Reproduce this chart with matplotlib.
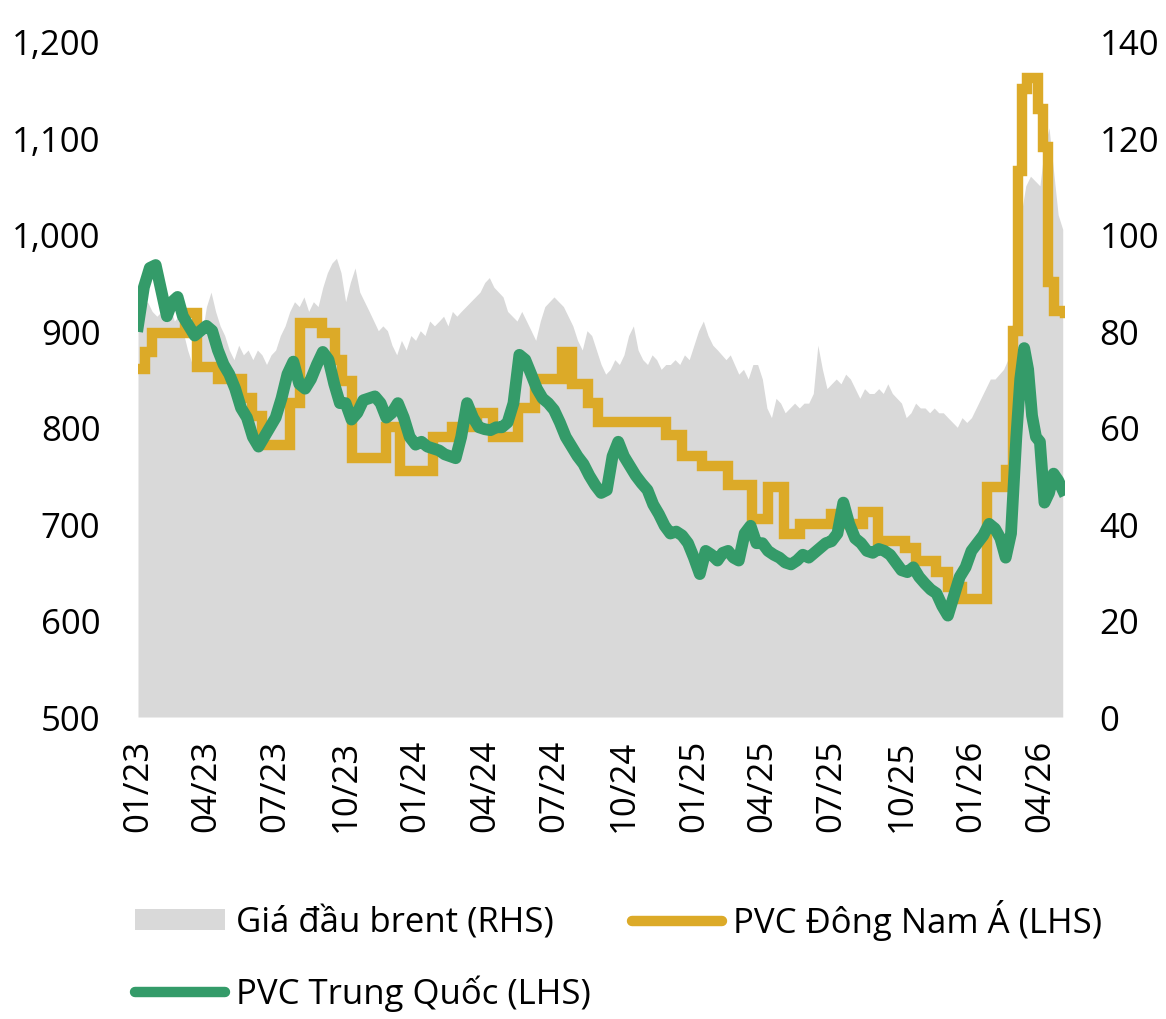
import matplotlib
matplotlib.use('Agg')
import matplotlib.pyplot as plt
import pandas as pd
from matplotlib.patches import Patch
from matplotlib.lines import Line2D
from matplotlib import font_manager as fm


def pick_font(cands):
    for c in cands:
        try:
            fm.findfont(c, fallback_to_default=False)
            return c
        except Exception:
            pass
    return 'DejaVu Sans'


FONT = pick_font(['Open Sans', 'Noto Sans', 'Lato', 'DejaVu Sans'])
plt.rcParams['font.family'] = [FONT, 'DejaVu Sans']

# ---------------- data ----------------
# PVC China (LHS), values per month (evenly spaced inside each month), Jan 2023 ->
green_2023 = [
    [905, 945, 965, 968], [940, 915, 930, 935], [915, 905, 895, 900],
    [905, 900, 880, 865], [855, 840, 820, 810], [790, 780, 790, 800],
    [810, 830, 855, 868], [845, 840, 850, 865], [878, 870, 845, 825],
    [825, 808, 815, 828], [830, 832, 825, 810], [815, 825, 810, 790],
]
green_2024 = [
    [782, 785, 780, 778], [776, 772, 770, 768], [790, 825, 810, 800],
    [798, 797, 800, 800], [805, 825, 875, 870], [855, 840, 830, 825],
    [818, 805, 790, 780], [770, 762, 750, 740], [732, 735, 770, 785],
    [770, 760, 750, 742], [735, 720, 710, 698], [690, 692, 688, 680],
]
green_2025 = [
    [665, 648, 672, 668], [662, 670, 672, 665], [662, 690, 698, 680],
    [680, 672, 668, 665], [660, 658, 662, 668], [665, 670, 675, 680],
    [682, 690, 722, 700], [685, 680, 672, 670], [674, 672, 668, 660],
    [652, 650, 655, 645], [638, 632, 628, 615], [605, 625, 645, 655],
]
green_2026 = [
    [672, 680, 688, 700], [695, 685, 665, 690],
    [790, 850, 882, 860, 812, 790], [785, 722, 732, 752, 745], [735],
]

# Brent (RHS), values per month
brent_2023 = [
    [82, 85, 86, 84, 83], [84, 83, 85, 82, 83], [80, 76, 73, 77, 79],
    [85, 88, 84, 81, 79], [76, 74, 77, 75, 76], [74, 76, 75, 73, 75],
    [76, 79, 81, 84, 86], [85, 87, 84, 86, 85], [89, 92, 94, 95, 92],
    [86, 90, 93, 88, 86], [84, 82, 80, 81, 80], [77, 75, 78, 76, 79],
]
brent_2024 = [
    [78, 80, 79, 82, 81], [82, 83, 81, 84, 83], [84, 85, 86, 87, 88],
    [90, 91, 89, 88, 87], [84, 83, 82, 84, 82], [80, 78, 82, 85, 86],
    [87, 86, 85, 83, 81], [78, 76, 80, 79, 76], [73, 71, 72, 74, 73],
    [75, 79, 81, 76, 74], [73, 75, 74, 72, 73], [73, 74, 73, 75, 74],
]
brent_2025 = [
    [77, 80, 82, 79, 77], [76, 75, 74, 75, 73], [71, 72, 70, 73, 73],
    [70, 64, 62, 66, 65], [63, 64, 65, 64, 65], [65, 67, 77, 72, 68],
    [69, 70, 69, 71, 70], [68, 66, 68, 67, 67], [68, 67, 69, 67, 66],
    [65, 62, 63, 65, 64], [64, 63, 64, 63, 63], [62, 61, 60, 62, 61],
]
brent_2026 = [
    [62, 64, 66, 68, 70], [70, 71, 72, 74, 80], [95, 104, 110, 112, 111],
    [110, 118, 122, 113, 104], [101],
]

# PVC South-East Asia (LHS), stepped price changes
sea_dates = ['2023-01-01', '2023-01-10', '2023-01-19', '2023-03-04', '2023-03-20',
             '2023-04-16', '2023-05-18', '2023-05-31', '2023-06-13', '2023-07-20',
             '2023-08-02', '2023-08-31', '2023-09-17', '2023-09-26', '2023-10-10',
             '2023-11-23', '2023-12-12', '2024-01-24', '2024-02-18', '2024-03-22',
             '2024-04-12', '2024-05-15', '2024-06-06', '2024-07-12', '2024-07-25',
             '2024-08-15', '2024-08-28', '2024-11-25', '2024-12-17', '2025-01-12',
             '2025-02-15', '2025-03-19', '2025-04-09', '2025-04-30', '2025-05-21',
             '2025-06-30', '2025-07-19', '2025-08-11', '2025-08-31', '2025-10-06',
             '2025-10-20', '2025-11-15', '2025-12-01', '2025-12-20', '2026-01-21',
             '2026-02-15', '2026-02-24', '2026-03-03', '2026-03-09', '2026-03-15',
             '2026-03-29', '2026-04-05', '2026-04-11', '2026-04-20', '2026-05-04']
sea_values = [860, 878, 898, 918, 862,
              850, 830, 812, 782, 825,
              908, 898, 870, 848, 768,
              800, 755, 790, 800, 815,
              790, 820, 850, 878, 845,
              825, 805, 792, 770, 760,
              740, 705, 738, 690, 700,
              710, 700, 712, 682, 675,
              662, 650, 635, 622, 738,
              756, 900, 1065, 1150, 1162,
              1130, 1090, 950, 920, 918]

tick_labels = ['01/23', '04/23', '07/23', '10/23', '01/24', '04/24', '07/24',
               '10/24', '01/25', '04/25', '07/25', '10/25', '01/26', '04/26']
left_ticks = [500, 600, 700, 800, 900, 1000, 1100, 1200]
right_ticks = [0, 20, 40, 60, 80, 100, 120, 140]

label_brent = 'Giá đầu brent (RHS)'
label_sea = 'PVC Đông Nam Á (LHS)'
label_cn = 'PVC Trung Quốc (LHS)'


def monthly_series(start_year, blocks):
    dates, vals = [], []
    for j, block in enumerate(blocks):
        m0 = pd.Timestamp(year=start_year + j // 12, month=j % 12 + 1, day=1)
        m1 = m0 + pd.offsets.MonthBegin(1)
        k = len(block)
        for i, v in enumerate(block):
            dates.append(m0 + (m1 - m0) * i / k)
            vals.append(v)
    return dates, vals


green_d, green_v = monthly_series(2023, green_2023 + green_2024 + green_2025 + green_2026)
brent_d, brent_v = monthly_series(2023, brent_2023 + brent_2024 + brent_2025 + brent_2026)
sea_d = pd.to_datetime(sea_dates)

# ---------------- figure ----------------
W, H = 1166, 1020
fig = plt.figure(figsize=(W / 100, H / 100), dpi=100)
ax = fig.add_axes([138 / W, 1 - 718 / H, (1065 - 138) / W, (718 - 42) / H])
axr = ax.twinx()
axr.set_zorder(ax.get_zorder() - 1)
ax.patch.set_visible(False)

GRAY = '#D9D9D9'
ORANGE = '#DCAA28'
GREEN = '#349B69'

axr.fill_between(brent_d, brent_v, 0, color=GRAY, lw=0)
ax.plot(sea_d, sea_values, drawstyle='steps-post', color=ORANGE, lw=7.5,
        solid_joinstyle='miter', zorder=3)
ax.plot(green_d, green_v, color=GREEN, lw=8.5, solid_joinstyle='round', zorder=4)

xmin, xmax = pd.Timestamp('2023-01-01'), pd.Timestamp('2026-05-04')
ax.set_xlim(xmin, xmax)
ax.set_ylim(500, 1200)
axr.set_ylim(0, 140)

tick_dates = [pd.Timestamp('20' + t[3:] + '-' + t[:2] + '-01') for t in tick_labels]
ax.set_xticks(tick_dates)
ax.set_xticklabels(tick_labels, rotation=90)
ax.set_yticks(left_ticks)
ax.set_yticklabels([f'{v:,}' for v in left_ticks])
axr.set_yticks(right_ticks)
axr.set_yticklabels([str(v) for v in right_ticks])

FS = 25
for a in (ax, axr):
    for s in a.spines.values():
        s.set_visible(False)
ax.tick_params(axis='y', length=0, pad=27, labelsize=FS, colors='black')
ax.tick_params(axis='x', length=0, pad=16, labelsize=FS, colors='black')
axr.tick_params(axis='y', length=0, pad=25, labelsize=FS, colors='black')

handles = [Patch(facecolor=GRAY, edgecolor='none'),
           Line2D([], [], color=GREEN, lw=7.5, solid_capstyle='round'),
           Line2D([], [], color=ORANGE, lw=7.5, solid_capstyle='round')]
labels = [label_brent, label_cn, label_sea]
fig.legend(handles, labels, loc='upper left', bbox_to_anchor=(135 / W, 1 - 900 / H),
           ncol=2, frameon=False, fontsize=FS, handlelength=2.6, handleheight=0.55,
           handletextpad=0.3, columnspacing=1.2, labelspacing=1.0,
           borderpad=0, borderaxespad=0)

fig.savefig('out.png', dpi=100)
